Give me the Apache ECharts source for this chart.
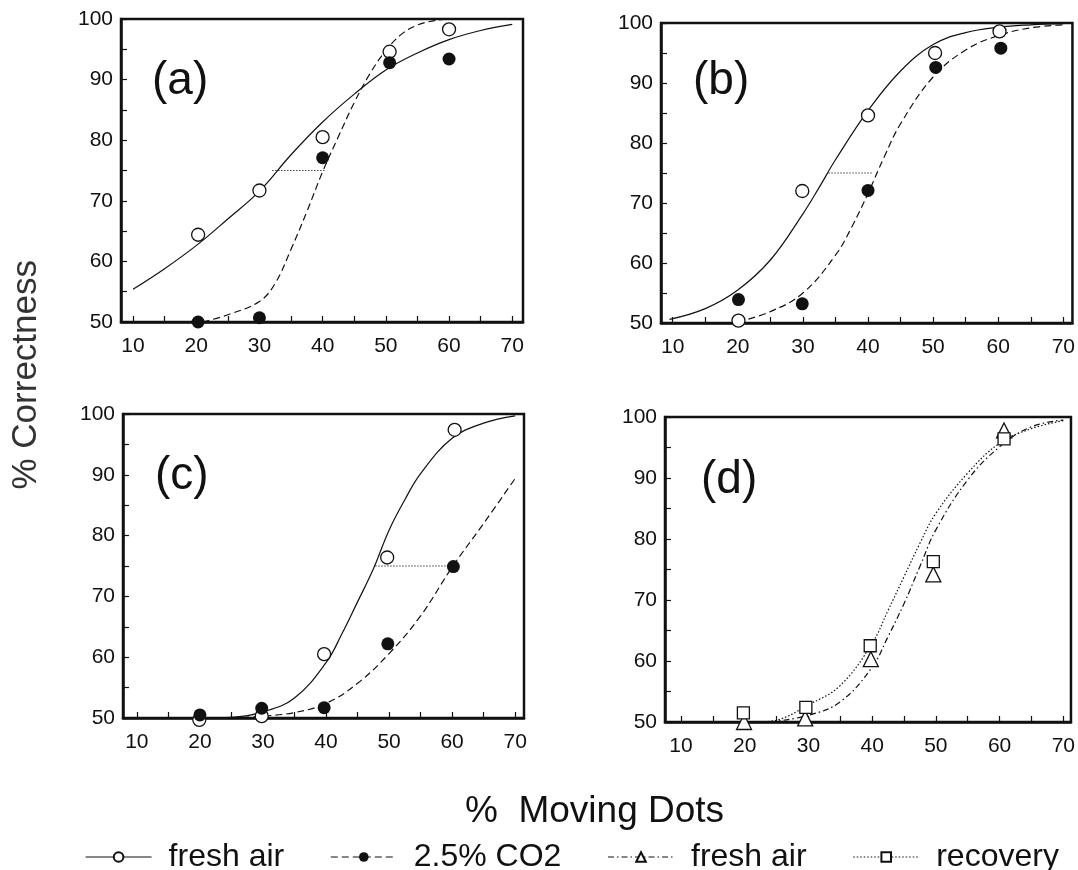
<!DOCTYPE html>
<html>
<head>
<meta charset="utf-8">
<script src="https://cdn.jsdelivr.net/npm/echarts@6/dist/echarts.min.js"></script>
<style>
  html, body { margin: 0; padding: 0; background: #fff; }
  #chart { width: 1078px; height: 870px; }
</style>
</head>
<body>
<div id="chart"></div>
<script>
  // ticks and labels
  var xTickVals = [10, 15, 20, 25, 30, 35, 40, 45, 50, 55, 60, 65, 70];
  var xLabelVals = [10, 20, 30, 40, 50, 60, 70];
  var yTickVals = [50, 55, 60, 65, 70, 75, 80, 85, 90, 95, 100];
  var yLabelVals = [50, 60, 70, 80, 90, 100];
  var panelLabels = ['(a)', '(b)', '(c)', '(d)'];

  // (a) measured points
  var aFreshPts = [[20.3, 64.4], [30, 71.7], [40, 80.5], [50.6, 94.6], [60, 98.3]];
  var aCo2Pts = [[20.3, 50], [30, 50.7], [40, 77.1], [50.6, 92.8], [60, 93.4]];
  // (a) fitted curves
  var aFreshFit = [[10, 55.4], [15, 58.8], [20, 62.6], [25, 67], [30, 71.6], [35, 77.6], [40, 83], [45, 87.6], [50, 91.6], [55, 94.4], [60, 96.6], [65, 98.1], [70, 99.1]];
  var aCo2Fit = [[21, 50], [25, 51.2], [30, 53.4], [32.5, 56.4], [35, 62], [37.5, 68.2], [40, 74.8], [42.5, 80.6], [45, 86.2], [47.5, 91], [50, 94.8], [52.5, 97.5], [55, 99], [57.5, 99.7], [60, 100]];
  var aThreshold = [[32, 75], [40.5, 75]];

  // (b)
  var bFreshPts = [[20.1, 50.4], [29.9, 72], [40, 84.6], [50.3, 95], [60.2, 98.6]];
  var bCo2Pts = [[20.1, 53.9], [29.9, 53.2], [40, 72.1], [50.4, 92.6], [60.4, 95.8]];
  var bFreshFit = [[9.5, 50.6], [15, 52.4], [20, 55.5], [25, 60.5], [30, 68.2], [32.5, 72.6], [35, 77.2], [40, 85.4], [45, 92], [50, 96.4], [55, 98.4], [60, 99.3], [65, 99.7], [70, 99.9]];
  var bCo2Fit = [[20, 50.2], [25, 51.9], [30, 55], [35, 61.3], [37.5, 66], [40, 71.6], [42.5, 77.7], [45, 83.2], [50, 91], [55, 95.5], [60, 97.9], [65, 99.2], [70, 99.7]];
  var bThreshold = [[33.9, 75], [40.6, 75]];

  // (c)
  var cFreshPts = [[19.9, 49.7], [29.8, 50.3], [39.7, 60.5], [49.7, 76.4], [60.4, 97.4]];
  var cCo2Pts = [[20, 50.5], [29.8, 51.6], [39.7, 51.7], [49.8, 62.2], [60.2, 74.9]];
  var cFreshFit = [[20, 50], [25, 50.1], [30, 51], [35, 53.3], [40, 59.1], [42.5, 63.8], [45, 69.1], [47.5, 74.5], [50, 80.9], [52.5, 85.9], [55, 90.2], [60, 96], [65, 98.5], [70, 99.7]];
  var cCo2Fit = [[25, 50], [30, 50.3], [35, 50.9], [40, 52.4], [45, 55.7], [50, 60.6], [55, 66.8], [60, 74.8], [65, 82], [70, 89.4]];
  var cThreshold = [[47.8, 75], [60, 75]];

  // (d)
  var dFreshPts = [[19.9, 50], [29.5, 50.6], [39.8, 60.3], [49.6, 74.2], [60.7, 97.8]];
  var dRecoveryPts = [[19.8, 51.5], [29.6, 52.4], [39.7, 62.5], [49.6, 76.3], [60.7, 96.4]];
  var dFreshFit = [[24, 50], [30, 51.1], [35, 53.3], [40, 59], [42.5, 64], [45, 69.4], [47.5, 75.5], [50, 81.5], [55, 89.7], [60, 95.1], [65, 98.4], [70, 99.5]];
  var dRecoveryFit = [[22, 50], [25, 50.3], [30, 52.8], [35, 56], [40, 62.9], [42.5, 68.3], [45, 73.8], [47.5, 79.3], [50, 84.2], [55, 90.8], [60, 95.7], [65, 98.1], [70, 99.4]];

  var ink = '#111';
  var font = 'Liberation Sans, Arial, sans-serif';

  var grids = [
    {left: 121, top: 19, width: 402, height: 303},
    {left: 661, top: 23, width: 414, height: 300},
    {left: 123, top: 414, width: 401, height: 304},
    {left: 665, top: 417, width: 410, height: 305}
  ];
  var xRanges = [[8.1, 71.7], [8.2, 71.4], [7.8, 71.4], [7.5, 71.2]];
  var labelPos = [[147, 53], [688, 53], [150, 448], [696, 452]];

  var solid = 'solid', dashed = [7, 4], dashDot = [6, 3, 1.5, 3], dotted = [1.5, 2];

  function curve(name, data, idx, type, sym) {
    return {
      name: name, type: 'line', xAxisIndex: idx, yAxisIndex: idx,
      data: data, smooth: 0.4, symbol: sym, showSymbol: false, clip: false,
      color: ink, lineStyle: {color: ink, width: 1.2, type: type}, silent: true, z: 2
    };
  }
  function points(name, data, idx, sym, size, filled) {
    return {
      name: name, type: 'scatter', xAxisIndex: idx, yAxisIndex: idx,
      data: data, symbol: sym, symbolSize: size, clip: false, z: 3,
      itemStyle: filled ? {color: ink, opacity: 1} : {color: '#fff', borderColor: ink, borderWidth: 1.3, opacity: 1}
    };
  }
  function threshold(data, idx) {
    return {
      type: 'line', xAxisIndex: idx, yAxisIndex: idx, data: data,
      symbol: 'none', silent: true, z: 1,
      lineStyle: {color: '#444', width: 1, type: [1.5, 1.5]}
    };
  }

  var series = [
    curve('fresh air', aFreshFit, 0, solid, 'emptyCircle'),
    curve('2.5% CO2', aCo2Fit, 0, dashed, 'circle'),
    curve('fresh air d', dFreshFit, 3, dashDot, 'emptyTriangle'),
    curve('recovery', dRecoveryFit, 3, dotted, 'emptyRect'),
    curve('fresh air', bFreshFit, 1, solid, 'emptyCircle'),
    curve('2.5% CO2', bCo2Fit, 1, dashed, 'circle'),
    curve('fresh air', cFreshFit, 2, solid, 'emptyCircle'),
    curve('2.5% CO2', cCo2Fit, 2, dashed, 'circle'),
    threshold(aThreshold, 0),
    threshold(bThreshold, 1),
    threshold(cThreshold, 2),
    points('fresh air', aFreshPts, 0, 'circle', 13, false),
    points('2.5% CO2', aCo2Pts, 0, 'circle', 13, true),
    points('fresh air', bFreshPts, 1, 'circle', 13, false),
    points('2.5% CO2', bCo2Pts, 1, 'circle', 13, true),
    points('fresh air', cFreshPts, 2, 'circle', 13, false),
    points('2.5% CO2', cCo2Pts, 2, 'circle', 13, true),
    points('fresh air d', dFreshPts, 3, 'triangle', 15, false),
    points('recovery', dRecoveryPts, 3, 'rect', 12, false)
  ];

  var xAxis = [], yAxis = [], titles = [];
  for (var i = 0; i < 4; i++) {
    xAxis.push({
      type: 'value', gridIndex: i, min: xRanges[i][0], max: xRanges[i][1],
      axisLine: {show: true, lineStyle: {color: ink, width: 2.5}},
      axisTick: {show: true, inside: true, length: 6, customValues: xTickVals, lineStyle: {color: ink, width: 1.2}},
      axisLabel: {customValues: xLabelVals, color: ink, fontSize: 21, fontFamily: font, margin: 14},
      splitLine: {show: false}
    });
    yAxis.push({
      type: 'value', gridIndex: i, min: 50, max: 100,
      axisLine: {show: true, lineStyle: {color: ink, width: 2.5}},
      axisTick: {show: true, inside: true, length: 6, customValues: yTickVals, lineStyle: {color: ink, width: 1.2}},
      axisLabel: {customValues: yLabelVals, color: ink, fontSize: 21, fontFamily: font, margin: 8},
      splitLine: {show: false}
    });
    titles.push({
      text: panelLabels[i], left: labelPos[i][0], top: labelPos[i][1],
      textStyle: {fontSize: 46, fontWeight: 'normal', color: ink, fontFamily: font}
    });
  }

  var chart = echarts.init(document.getElementById('chart'));
  chart.setOption({
    animation: false,
    backgroundColor: '#fff',
    title: titles,
    grid: grids.map(function (g) {
      return Object.assign({show: true, borderColor: ink, borderWidth: 2.5, backgroundColor: 'transparent', containLabel: false}, g);
    }),
    xAxis: xAxis,
    yAxis: yAxis,
    legend: {
      data: ['fresh air', '2.5% CO2', 'fresh air d', 'recovery'],
      left: 80, top: 836,
      itemWidth: 66, itemHeight: 12, itemGap: 46,
      selectedMode: false,
      formatter: function (n) { return n === 'fresh air d' ? 'fresh air' : n; },
      lineStyle: {width: 1.2},
      textStyle: {fontSize: 32, color: ink, fontFamily: font, padding: [0, 0, 0, 12]}
    },
    graphic: [
      {type: 'text', left: 9, top: 260, rotation: Math.PI / 2,
        style: {text: '% Correctness', fill: '#333', font: '35px ' + font}},
      {type: 'text', left: 465, top: 793,
        style: {text: '%  Moving Dots', fill: ink, font: '37px ' + font}}
    ],
    series: series
  });
</script>
</body>
</html>
